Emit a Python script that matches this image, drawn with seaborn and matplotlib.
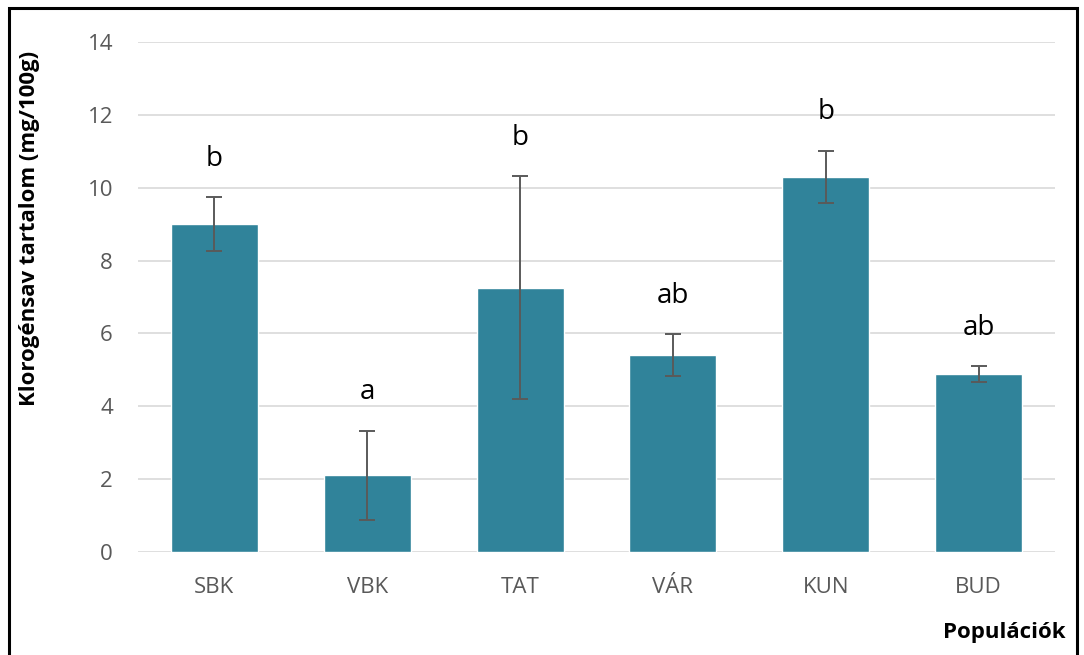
import pandas as pd
import seaborn as sns
import matplotlib.pyplot as plt
from matplotlib.patches import Rectangle

# Data
populations = ['SBK', 'VBK', 'TAT', 'VÁR', 'KUN', 'BUD']
means = [9.0, 2.1, 7.25, 5.4, 10.3, 4.88]
errors = [0.75, 1.23, 3.06, 0.57, 0.72, 0.22]
letters = ['b', 'a', 'b', 'ab', 'b', 'ab']

df = pd.DataFrame({'Populációk': populations, 'Klorogénsav': means})

sns.set_theme(style='white')
plt.rcParams['font.family'] = ['Open Sans', 'DejaVu Sans']

fig = plt.figure(figsize=(10.84, 6.55), dpi=100)
ax = fig.add_axes([0.1273, 0.1573, 0.8459, 0.7786])

sns.barplot(data=df, x='Populációk', y='Klorogénsav', color='#30839a',
            saturation=1, width=0.57, errorbar=None, ax=ax, zorder=3)
ax.errorbar(range(len(populations)), means, yerr=errors, fmt='none',
            ecolor='#5a5a5a', elinewidth=1.4, capsize=6, capthick=1.4, zorder=4)

# significance letters above the error bars
for i, (m, e, t) in enumerate(zip(means, errors, letters)):
    ax.text(i, m + e + 1.05, t, ha='center', va='center', fontsize=20, color='black')

ax.set_ylim(0, 14)
ax.set_xlim(-0.5, len(populations) - 0.5)
ax.set_yticks(range(0, 15, 2))
ax.yaxis.grid(True, color='#d9d9d9', linewidth=1.2, zorder=0)
ax.set_axisbelow(True)
for s in ax.spines.values():
    s.set_visible(False)
ax.tick_params(axis='both', length=0, labelsize=16, labelcolor='#595959')
ax.tick_params(axis='x', pad=18)
ax.tick_params(axis='y', pad=18)

ax.set_xlabel('')
ax.set_ylabel('')
fig.text(0.027, 0.652, 'Klorogénsav tartalom (mg/100g)', rotation=90, ha='center',
         va='center', fontsize=16, fontweight='bold', color='black')
fig.text(0.983, 0.035, 'Populációk', ha='right', va='center', fontsize=16,
         fontweight='bold', color='black')

# outer frame
fig.patches.append(Rectangle((0.008, -0.05), 0.986, 1.038, transform=fig.transFigure,
                             fill=False, edgecolor='black', linewidth=2.2))

fig.savefig('out.png', dpi=100)
